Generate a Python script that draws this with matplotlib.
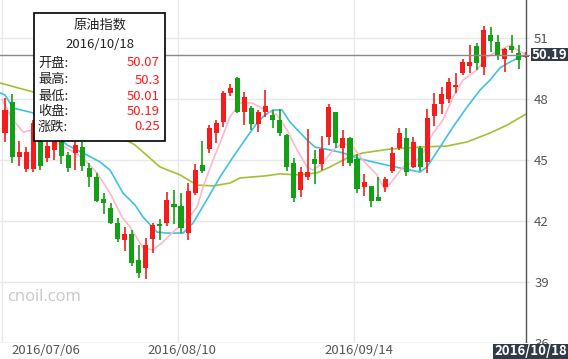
import matplotlib
matplotlib.use("Agg")
import matplotlib.pyplot as plt
from matplotlib.patches import Rectangle
import matplotlib.transforms as mtransforms

plt.rcParams['font.family'] = ['Noto Sans CJK SC', 'DejaVu Sans']

# ---- data ----
opens = [46.34, 47.87, 45.15, 44.57, 44.56, 46.50, 45.10, 45.51, 46.20, 45.26,
         45.37, 45.67, 44.61, 44.16, 43.11, 42.67, 41.93, 41.08, 41.37, 40.09,
         39.69, 41.11, 41.86, 41.93, 42.85, 42.77, 41.44, 43.41, 44.77, 45.54,
         46.36, 46.90, 48.29, 49.03, 47.39, 47.59, 46.78, 47.39, 47.23, 46.98,
         46.24, 44.85, 43.54, 44.16, 45.05, 44.82, 46.16, 47.36, 45.59, 46.08,
         45.05, 43.67, 43.74, 43.21, 43.70, 44.47, 45.59, 46.08, 44.68, 45.62,
         44.93, 47.18, 47.77, 48.01, 48.62, 49.28, 49.65, 50.62, 49.57, 51.16,
         50.83, 49.97, 50.62, 50.29, 50.07]
highs = [48.06, 48.26, 45.95, 45.67, 46.98, 46.60, 45.91, 46.30, 46.50, 45.42,
         46.00, 45.91, 44.85, 44.36, 43.38, 42.88, 42.15, 41.70, 41.57, 40.83,
         41.16, 41.90, 42.10, 43.45, 43.54, 43.41, 43.87, 44.82, 45.95, 46.74,
         46.98, 48.42, 48.75, 49.11, 48.34, 47.67, 47.47, 48.46, 47.47, 47.51,
         46.29, 45.10, 44.65, 46.52, 45.51, 46.19, 47.77, 47.39, 46.49, 46.13,
         45.29, 44.31, 43.74, 44.16, 44.19, 45.64, 46.57, 46.57, 46.16, 45.70,
         47.51, 48.32, 48.62, 49.03, 49.28, 49.97, 50.67, 50.75, 51.61, 51.57,
         51.16, 50.51, 51.16, 50.67, 50.30]
lows = [45.90, 44.87, 44.73, 44.41, 44.44, 44.52, 44.93, 45.01, 44.80, 44.44,
        44.52, 44.49, 43.70, 42.93, 42.36, 41.87, 41.00, 40.55, 39.80, 39.19,
        39.16, 40.42, 41.08, 41.78, 41.85, 41.41, 41.08, 43.29, 44.36, 45.34,
        45.84, 46.65, 48.16, 47.31, 46.74, 46.49, 46.41, 47.14, 46.57, 46.19,
        44.47, 42.96, 43.18, 44.03, 43.83, 44.52, 45.75, 45.59, 44.72, 44.72,
        43.41, 43.26, 42.72, 43.01, 43.45, 44.36, 45.51, 44.23, 44.61, 44.49,
        44.36, 46.69, 47.28, 47.80, 48.29, 49.19, 49.28, 49.44, 49.19, 50.34,
        49.93, 49.36, 50.26, 49.47, 50.01]
closes = [47.47, 45.16, 45.42, 45.42, 46.82, 44.72, 45.70, 46.00, 45.23, 44.61,
          45.75, 44.73, 44.16, 43.01, 42.91, 41.93, 41.11, 41.37, 39.96, 39.47,
          40.83, 41.82, 41.78, 43.05, 42.72, 41.68, 43.49, 44.52, 44.47, 46.60,
          46.82, 48.29, 48.54, 47.36, 48.10, 46.78, 47.36, 47.67, 46.98, 46.36,
          44.68, 43.13, 44.44, 44.44, 44.82, 45.54, 47.64, 45.86, 46.08, 44.88,
          43.57, 43.95, 43.01, 43.01, 44.08, 45.34, 46.33, 44.44, 45.91, 44.65,
          47.06, 47.77, 48.26, 48.84, 48.70, 49.85, 49.85, 49.80, 51.41, 50.87,
          50.18, 50.46, 50.42, 49.94, 50.19]

# moving-average lines (sample position index, value)
ma5_x = [-0.43, 1.14, 2.56, 3.98, 9.23, 11.08, 13.07, 14.91, 16.62, 17.76, 19.6,
         21.02, 22.44, 23.86, 25.85, 27.27, 28.13, 29.55, 30.54, 31.96, 33.38,
         35.09, 36.93, 38.64, 40.06, 41.48, 42.9, 43.75, 45.17, 46.59, 48.01,
         49.43, 50.85, 52.84, 53.98, 55.11, 56.53, 58.52, 59.38, 60.8, 62.22,
         63.64, 65.06, 67.05, 68.47, 69.89, 71.73, 73.15, 74]
ma5_y = [47.97, 46.98, 46.39, 46.49, 45.51, 45.11, 44.37, 43.39, 42.21, 41.72,
         40.69, 40.59, 40.98, 41.47, 42.06, 42.70, 43.69, 45.01, 45.85, 47.13,
         47.82, 47.82, 47.47, 47.23, 46.49, 45.51, 44.67, 44.52, 44.87, 45.51,
         45.85, 45.65, 45.01, 44.28, 43.54, 44.03, 44.67, 45.01, 45.36, 46.34,
         46.98, 48.11, 48.95, 49.44, 50.08, 50.33, 50.67, 50.33, 50.23]
ma10_x = [-0.71, 0, 1.14, 3.98, 8.81, 11.08, 13.49, 14.91, 16.76, 18.47, 19.6,
          21.59, 23.01, 25.28, 26.7, 28.69, 30.54, 32.39, 34.38, 35.8, 36.93,
          38.07, 39.35, 40.48, 42.9, 44.03, 46.16, 48.01, 50.0, 52.84, 56.11,
          58.95, 59.94, 61.79, 63.64, 65.63, 67.47, 68.89, 70.3, 71.7, 73.15, 74]
ma10_y = [48.31, 48.21, 47.57, 47.33, 45.75, 45.36, 44.92, 44.52, 43.39, 42.80,
          42.21, 41.47, 41.42, 41.42, 41.91, 43.07, 44.18, 45.16, 46.15, 46.83,
          47.23, 47.47, 47.47, 46.88, 46.00, 45.65, 45.51, 45.36, 45.11, 44.87,
          44.62, 44.42, 44.67, 45.65, 46.64, 47.62, 48.45, 48.94, 49.54, 49.83,
          50.08, 50.18]
ma30_x = [-0.71, 3.98, 10.7, 18.47, 22.02, 24.86, 27.27, 29.55, 31.96, 33.38,
          36.93, 39.06, 41.48, 44.32, 46.16, 48.58, 50.85, 54.69, 58.95, 62.78,
          65.63, 68.89, 71.31, 74]
ma30_y = [48.80, 48.36, 47.23, 45.75, 44.67, 44.28, 43.78, 43.74, 43.88, 44.13,
          44.23, 44.33, 44.28, 44.38, 44.67, 45.11, 45.36, 45.55, 45.65, 45.70,
          45.90, 46.34, 46.73, 47.27]

grid_pos = [-0.4, 24.6, 49.6]
label_pos = [5.8, 25.1, 50.3]
date_labels = ['2016/07/06', '2016/08/10', '2016/09/14']
last_date = '2016/10/18'
y_ticks = [36, 39, 42, 45, 48, 51]
title = '原油指数'
info_names = ['开盘:', '最高:', '最低:', '收盘:', '涨跌:']
info_values = ['50.07', '50.3', '50.01', '50.19', '0.25']

RED = '#f71c1c'
GREEN = '#14a014'

W, H = 568, 359
fig = plt.figure(figsize=(W / 100, H / 100), dpi=100)
ax = fig.add_axes([0, 15.7 / H, 530 / W, 343.3 / H])
ax.set_xlim(-0.71, 74.57)
ax.set_ylim(36, 52.88)

for s in ax.spines.values():
    s.set_visible(False)

# grid
ax.set_yticks(y_ticks)
ax.yaxis.tick_right()
ax.tick_params(axis='y', length=0, pad=3, labelsize=9.5, labelcolor='#555555')
ax.grid(axis='y', color='#e8e8e8', lw=1, zorder=0)
ax.set_xticks(grid_pos, minor=True)
ax.set_xticks(label_pos)
ax.set_xticklabels(date_labels)
ax.tick_params(axis='x', which='both', length=0, pad=0.5, labelsize=9.5, labelcolor='#555555')
ax.grid(axis='x', which='minor', color='#e8e8e8', lw=1, zorder=0)
ax.axhline(36, color='#e0e0e0', lw=1, zorder=0)

# watermark
ax.text(0.014, 0.135, 'cnoil.com', transform=ax.transAxes, fontsize=12,
        color='#c8c8c8', ha='left', va='center', family=['Open Sans', 'DejaVu Sans'], zorder=1)

# moving averages
ax.plot(ma30_x, ma30_y, color='#a2c132', lw=1.2, zorder=2)
ax.plot(ma10_x, ma10_y, color='#3fc2e3', lw=1.2, zorder=2)
ax.plot(ma5_x, ma5_y, color='#ffb8c8', lw=1.2, zorder=2)

# candles
idx = list(range(len(closes)))
colors = [RED if c >= o else GREEN for o, c in zip(opens, closes)]
ax.vlines(idx, lows, highs, colors=colors, lw=1.2, zorder=3)
bottoms = [min(o, c) for o, c in zip(opens, closes)]
heights = [max(abs(c - o), 0.08) for o, c in zip(opens, closes)]
ax.bar(idx, heights, bottom=bottoms, width=0.72, color=colors, lw=0, zorder=4)

# crosshair
ax.axvline(idx[-1], color='#555555', lw=1, zorder=5)
ax.axhline(closes[-1], color='#8a8a8a', lw=1, zorder=5)

# price label box
tr = mtransforms.blended_transform_factory(fig.transFigure, ax.transData)
bh = 13.4 / 20.33
ax.add_patch(Rectangle((530.5 / W, closes[-1] - bh / 2), 37.5 / W, bh, transform=tr,
                       facecolor='#323a45', edgecolor='none', clip_on=False, zorder=6))
ax.text(549.5 / W, closes[-1], f'{closes[-1]:.2f}', transform=tr, ha='center', va='center',
        color='white', fontsize=9.5, fontweight='bold', zorder=7, clip_on=False)

# date label box
fig.add_artist(Rectangle((493 / W, 0), 75 / W, 15.5 / H, transform=fig.transFigure,
                         facecolor='#323a45', edgecolor='none', zorder=6))
fig.text(530.5 / W, 7.5 / H, last_date, ha='center', va='center', color='white',
         fontsize=9.5, fontweight='bold', zorder=7)

# tooltip
fig.add_artist(Rectangle((33.5 / W, 1 - 140.5 / H), 131.5 / W, 127.8 / H,
                         transform=fig.transFigure, facecolor='white', edgecolor='black',
                         lw=1.2, zorder=8))
fig.text(100 / W, 1 - 25 / H, title, ha='center', va='center', fontsize=9.5, color='#222222', zorder=9)
fig.text(100 / W, 1 - 45 / H, last_date, ha='center', va='center', fontsize=9.5, color='#222222', zorder=9)
row_y = [63, 80, 96, 112, 127]
for name, val, ry in zip(info_names, info_values, row_y):
    fig.text(38 / W, 1 - ry / H, name, ha='left', va='center', fontsize=9.5, color='#222222', zorder=9)
    fig.text(160 / W, 1 - ry / H, val, ha='right', va='center', fontsize=9.5, color='#ff1a1a', zorder=9)

fig.savefig('out.png', dpi=100)
